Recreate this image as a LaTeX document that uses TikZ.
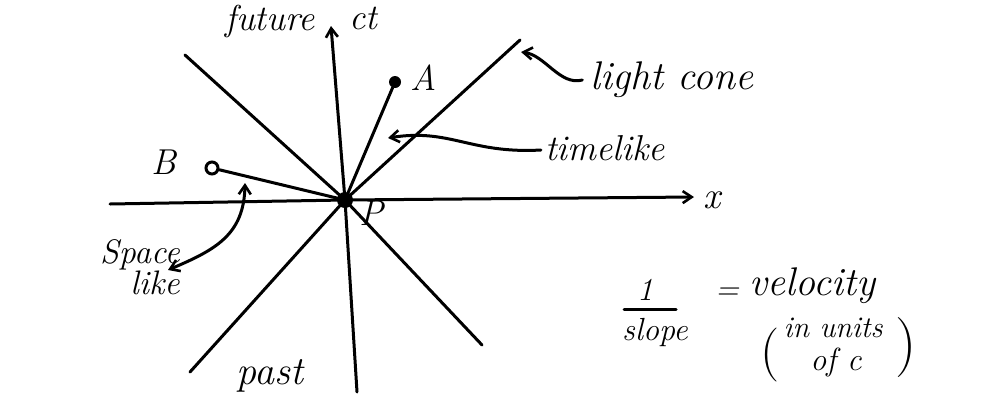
\documentclass[tikz,border=0pt]{standalone}
\usetikzlibrary{arrows.meta}
\begin{document}
\begin{tikzpicture}[x=1pt,y=-1pt,
  pen/.style={line width=3pt,line cap=round,line join=round},
  tip/.style={-{Straight Barb[length=9pt,width=12pt,line width=2.6pt]}},
  hand/.style={inner sep=0pt,font=\fontsize{#1}{#1}\selectfont\itshape},
  hand/.default=34,
  paren/.style={inner sep=0pt,font=\fontsize{#1}{#1}\selectfont},
  dotf/.style={circle,fill=black,inner sep=0pt,minimum size=#1},
  doto/.style={circle,draw=black,line width=3pt,fill=white,inner sep=0pt,minimum size=#1}]
\useasboundingbox (0,0) rectangle (990,400);
% axes and cone
\coordinate (ctTop) at (331,26);
\coordinate (ctBot) at (357,392);
\coordinate (xL) at (110,204);
\coordinate (xR) at (694,197);
\coordinate (c1a) at (185,55);
\coordinate (c1b) at (482,345);
\coordinate (c2a) at (520,40);
\coordinate (c2b) at (190,372);
\node[dotf=16pt] (P) at (345,200) {};
\node[dotf=12pt] (A) at (395,82) {};
\node[doto=12pt] (B) at (212,168) {};
\draw[pen] (c1a) -- (P.center) -- (c1b);
\draw[pen] (c2a) -- (P.center) -- (c2b);
\draw[pen,tip] (ctBot) -- (P.center) -- (ctTop);
\draw[pen,tip] (xL) -- (P.center) -- (xR);
\draw[pen] (P.center) -- (A);
\draw[pen] (P.center) -- (B);
% labels
\node[hand=36] (future) at (270,21) {future};
\node[hand=36] (ct) at (363,18) {ct};
\node[hand=36] (lA) at (424,78) {A};
\node[hand=36] (lB) at (164,162) {B};
\node[hand=36] (lP) at (371,213) {P};
\node[hand=38] (lx) at (712,200) {x};
\node[hand=40] (lc) at (672,80) {light cone};
\node[hand=36] (tl) at (605,148) {timelike};
\node[hand=34] (sp1) at (140,255) {Space};
\node[hand=34] (sp2) at (155,283) {like};
\node[hand=40] (past) at (270,376) {past};
% pointers
\draw[pen,tip] (lc.west) ++(-8,0) .. controls (560,86) and (545,55) .. (521,52);
\draw[pen,tip] (tl.west) ++(-4,2) .. controls (470,154) and (450,128) .. (388,138);
\draw[pen,{Straight Barb[length=9pt,width=12pt,line width=2.6pt]}-{Straight Barb[length=9pt,width=12pt,line width=2.6pt]}]
  (245,183) .. controls (244,235) and (215,250) .. (168,270);
% formula
\node[hand=32] (one) at (645,290) {1};
\coordinate (barL) at (624,309);
\coordinate (barR) at (676,309);
\draw[pen] (barL) -- (barR);
\node[hand=32] (slope) at (655,332) {slope};
\node[hand=32] (eq) at (727,294) {=};
\node[hand=40] (vel) at (812,286) {velocity};
\node[paren=54] (lpar) at (770,355) {(};
\node[hand=30] (inu) at (833,328) {in units};
\node[hand=32] (ofc) at (836,362) {of c};
\node[paren=60] (rpar) at (906,348) {)};
\end{tikzpicture}
\end{document}
